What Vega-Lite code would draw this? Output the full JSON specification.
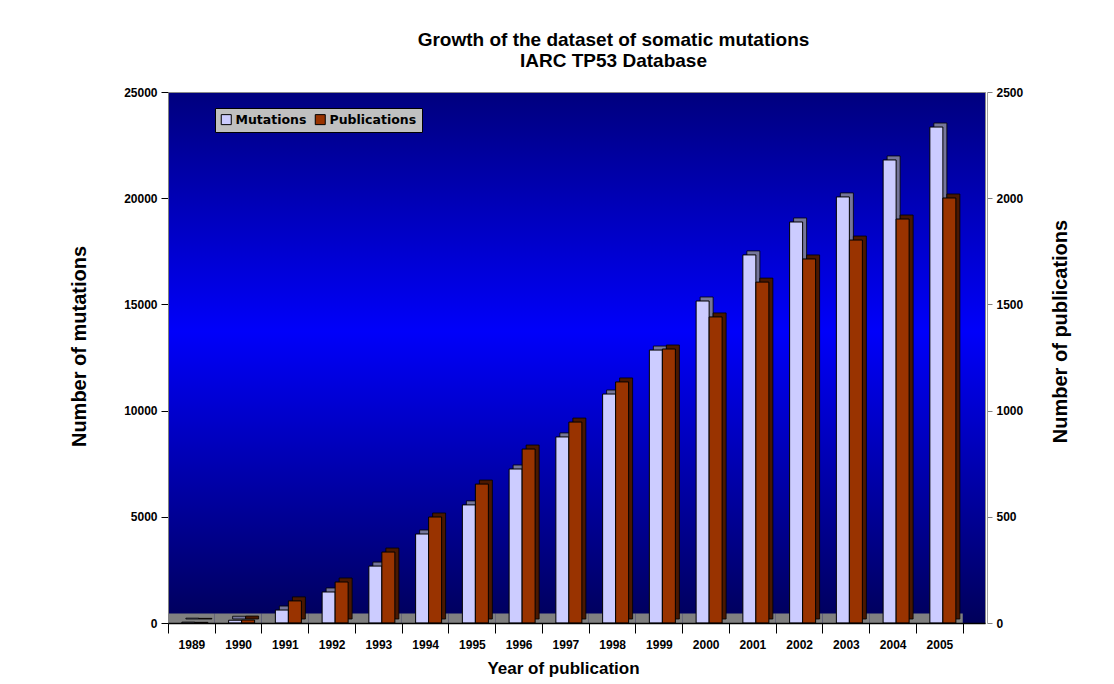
{
  "$schema": "https://vega.github.io/schema/vega-lite/v6.json",
  "autosize": "none",
  "width": 817,
  "height": 531,
  "padding": {"left": 168, "top": 92, "right": 129, "bottom": 61},
  "background": "white",
  "title": {
    "text": ["Growth of the dataset of somatic mutations", "IARC TP53 Database"],
    "anchor": "middle",
    "dx": 37,
    "offset": 15,
    "font": "Liberation Sans",
    "fontSize": 19,
    "fontWeight": "bold",
    "color": "#000000",
    "lineHeight": 21
  },
  "data": {
    "values": [
      {"year": "1989", "mutations": 40, "publications": 3},
      {"year": "1990", "mutations": 130, "publications": 14},
      {"year": "1991", "mutations": 610, "publications": 104},
      {"year": "1992", "mutations": 1460, "publications": 193},
      {"year": "1993", "mutations": 2680, "publications": 334},
      {"year": "1994", "mutations": 4190, "publications": 499},
      {"year": "1995", "mutations": 5560, "publications": 654},
      {"year": "1996", "mutations": 7250, "publications": 819},
      {"year": "1997", "mutations": 8760, "publications": 946},
      {"year": "1998", "mutations": 10780, "publications": 1135},
      {"year": "1999", "mutations": 12850, "publications": 1290},
      {"year": "2000", "mutations": 15160, "publications": 1441},
      {"year": "2001", "mutations": 17330, "publications": 1605},
      {"year": "2002", "mutations": 18880, "publications": 1714},
      {"year": "2003", "mutations": 20060, "publications": 1803},
      {"year": "2004", "mutations": 21800, "publications": 1902},
      {"year": "2005", "mutations": 23350, "publications": 2001}
    ]
  },
  "encoding": {
    "x": {
      "field": "year",
      "type": "ordinal",
      "scale": {"paddingInner": 0, "paddingOuter": 0.238, "align": 0},
      "axis": {
        "title": "Year of publication",
        "titleX": 395,
        "titlePadding": 10,
        "labelAngle": 0,
        "tickBand": "extent",
        "tickSize": 10,
        "tickColor": "#000000",
        "domainColor": "#000000",
        "domainWidth": 1.5,
        "labelPadding": 6
      }
    }
  },
  "layer": [
    {
      "encoding": {
        "y": {
          "field": "mutations",
          "type": "quantitative",
          "scale": {"domain": [0, 25000], "nice": false},
          "axis": {
            "orient": "left",
            "title": "Number of mutations",
            "titleFontSize": 20,
            "titleY": 254,
            "values": [0, 5000, 10000, 15000, 20000, 25000],
            "format": "d",
            "grid": false,
            "tickSize": 7,
            "tickColor": "#000000",
            "domainColor": "#808080",
            "labelPadding": 4,
            "titlePadding": 34
          }
        }
      },
      "layer": [
        {
          "mark": {"type": "rect", "color": "#808080"},
          "encoding": {
            "y": {"datum": 0, "type": "quantitative"},
            "y2": {"datum": 450}
          }
        },
        {
          "mark": {"type": "bar", "color": "#76769a", "stroke": "#000000", "strokeWidth": 0.8, "width": 13, "xOffset": 1, "yOffset": -4},
          "encoding": {}
        },
        {
          "mark": {"type": "bar", "stroke": "#000000", "strokeWidth": 1, "width": 13, "xOffset": -3},
          "encoding": {
            "color": {"datum": "Mutations"}
          }
        }
      ]
    },
    {
      "encoding": {
        "y": {
          "field": "publications",
          "type": "quantitative",
          "scale": {"domain": [0, 2500], "nice": false},
          "axis": {
            "orient": "right",
            "title": "Number of publications",
            "titleAngle": 270,
            "titleFontSize": 20,
            "titleY": 239,
            "values": [0, 500, 1000, 1500, 2000, 2500],
            "format": "d",
            "grid": false,
            "offset": 2,
            "tickSize": 5,
            "tickColor": "#808080",
            "domainColor": "#a0a0a0",
            "labelPadding": 4,
            "titlePadding": 48
          }
        }
      },
      "layer": [
        {
          "mark": {"type": "bar", "color": "#4a1800", "stroke": "#000000", "strokeWidth": 0.8, "width": 13, "xOffset": 14, "yOffset": -4},
          "encoding": {}
        },
        {
          "mark": {"type": "bar", "stroke": "#000000", "strokeWidth": 1, "width": 13, "xOffset": 10},
          "encoding": {
            "color": {"datum": "Publications"}
          }
        }
      ]
    }
  ],
  "resolve": {"scale": {"y": "independent"}},
  "config": {
    "view": {
      "stroke": "#8a8a8a",
      "fill": {
        "gradient": "linear",
        "x1": 0, "y1": 0, "x2": 0, "y2": 1,
        "stops": [
          {"offset": 0, "color": "#00007e"},
          {"offset": 0.45, "color": "#0000fa"},
          {"offset": 1, "color": "#00005a"}
        ]
      }
    },
    "range": {"category": ["#ccccff", "#993300"]},
    "axis": {
      "labelFont": "Liberation Sans",
      "labelFontSize": 12,
      "labelFontWeight": "bold",
      "labelColor": "#000000",
      "titleFont": "Liberation Sans",
      "titleFontSize": 17,
      "titleFontWeight": "bold",
      "titleColor": "#000000"
    },
    "legend": {
      "orient": "none",
      "legendX": 47,
      "legendY": 16,
      "direction": "horizontal",
      "title": null,
      "fillColor": "#c0c0c0",
      "strokeColor": "#000000",
      "padding": 5,
      "symbolType": "square",
      "symbolSize": 100,
      "symbolStrokeColor": "#000000",
      "symbolStrokeWidth": 1,
      "symbolOpacity": 1,
      "labelFont": "DejaVu Sans",
      "labelFontSize": 12.5,
      "labelFontWeight": "bold",
      "labelColor": "#000000",
      "columnPadding": 6,
      "labelOffset": 3
    }
  }
}
